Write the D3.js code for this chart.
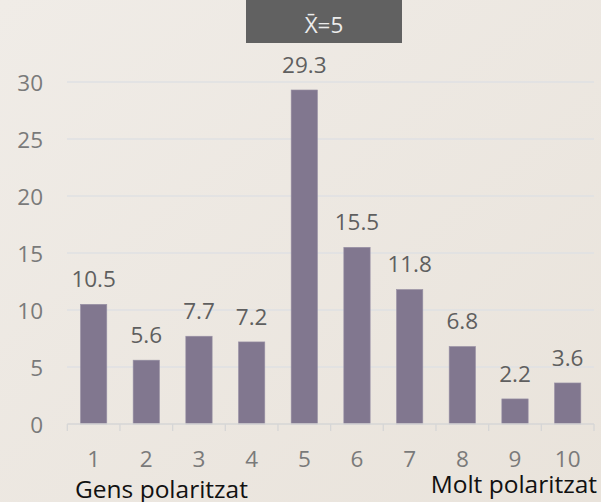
<!DOCTYPE html>
<html><head><meta charset="utf-8">
<script src="https://cdn.jsdelivr.net/npm/d3@7"></script>
<style>html,body{margin:0;padding:0;overflow:hidden;}svg{display:block;}</style>
</head><body>
<script>
const categories = ["1","2","3","4","5","6","7","8","9","10"];
const values = [10.5, 5.6, 7.7, 7.2, 29.3, 15.5, 11.8, 6.8, 2.2, 3.6];
const yTicks = [0, 5, 10, 15, 20, 25, 30];
const titleText = "X\u0304=5";
const leftNote = "Gens polaritzat";
const rightNote = "Molt polaritzat";

const W = 601, H = 502;
const svg = d3.select("body").append("svg").attr("width", W).attr("height", H);
const defs = svg.append("defs");
const grad = defs.append("linearGradient").attr("id","bg").attr("x1","0").attr("y1","0").attr("x2","1").attr("y2","1");
grad.append("stop").attr("offset","0").attr("stop-color","#f0ece7");
grad.append("stop").attr("offset","1").attr("stop-color","#e9e3db");
svg.append("rect").attr("width",W).attr("height",H).attr("fill","url(#bg)");

const font = "'Open Sans', 'Noto Sans', sans-serif";
const fs = 22.5;
const x = d3.scaleBand().domain(categories).range([67.3, 594]).paddingInner(0.5).paddingOuter(0.25);
const y = d3.scaleLinear().domain([0, 30]).range([424, 82]);

// gridlines
svg.append("g").selectAll("line").data(yTicks.filter(d => d > 0)).join("line")
  .attr("x1", 67).attr("x2", 594).attr("y1", d => y(d)).attr("y2", d => y(d))
  .attr("stroke", "#dfe1e3").attr("stroke-width", 1.3);

// y axis labels
const yAxis = d3.axisLeft(y).tickValues(yTicks).tickSize(0).tickPadding(0);
const gy = svg.append("g").attr("transform", "translate(43,0)").call(yAxis);
gy.select(".domain").remove();
gy.selectAll("text").attr("font-family", font).attr("font-size", fs).attr("fill", "#7a7a7a").attr("dy", "0.36em");

// bars
svg.append("g").selectAll("rect").data(values).join("rect")
  .attr("x", (d, i) => x(categories[i]))
  .attr("width", x.bandwidth())
  .attr("y", d => y(d))
  .attr("height", d => y(0) - y(d))
  .attr("fill", "#81778f")
  .attr("stroke", "#9a92a6").attr("stroke-width", 0.6);

// x axis
const band = d3.scaleBand().domain(categories).range([67.3, 594]);
const xAxis = d3.axisBottom(band).tickSize(0).tickPadding(0);
const gx = svg.append("g").attr("transform", `translate(0,${y(0)})`).call(xAxis);
gx.select(".domain").attr("stroke", "#d6d6d6").attr("stroke-width", 1.3).attr("d", "M67.3,0H594");
gx.selectAll(".tick text").attr("font-family", font).attr("font-size", fs).attr("fill", "#7a7a7a").attr("y", 43).attr("dy", 0);
// boundary ticks
const bounds = categories.map(c => band(c)).concat([594]);
gx.selectAll("line.bt").data(bounds).join("line").attr("class","bt")
  .attr("x1", d => d).attr("x2", d => d).attr("y1", 0).attr("y2", 7)
  .attr("stroke", "#d6d6d6").attr("stroke-width", 1.3);

// data labels
svg.append("g").selectAll("text").data(values).join("text")
  .attr("x", (d, i) => x(categories[i]) + x.bandwidth() / 2)
  .attr("y", d => y(d) - 17)
  .attr("text-anchor", "middle")
  .attr("font-family", font).attr("font-size", fs).attr("fill", "#5f5f5f")
  .text(d => d.toFixed(1));

// title box
svg.append("rect").attr("x", 246).attr("y", 0).attr("width", 156).attr("height", 43).attr("fill", "#616161");
svg.append("text").attr("x", 324).attr("y", 33).attr("text-anchor", "middle")
  .attr("font-family", font).attr("font-size", 22.5).attr("fill", "#ececec").text(titleText);

// notes
svg.append("text").attr("x", 75).attr("y", 498).attr("font-family", font).attr("font-size", 24.5).attr("fill", "#111").text(leftNote);
svg.append("text").attr("x", 597).attr("y", 493).attr("text-anchor", "end").attr("font-family", font).attr("font-size", 24.5).attr("fill", "#111").text(rightNote);
</script>
</body></html>
